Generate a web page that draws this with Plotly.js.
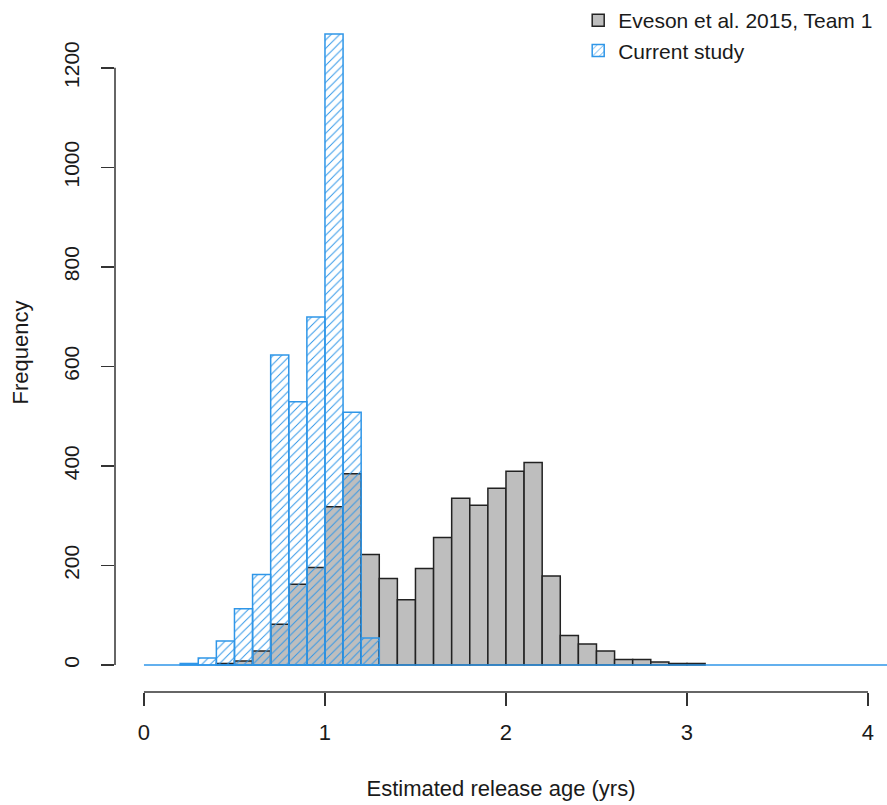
<!DOCTYPE html>
<html>
<head>
<meta charset="utf-8">
<script src="https://cdn.plot.ly/plotly-3.0.1.min.js"></script>
<style>html,body{margin:0;padding:0;background:#fff;}#chart{width:887px;height:805px;}</style>
</head>
<body>
<div id="chart"></div>
<script>
// Bin lower edges (width 0.1 yr) and counts
const evesonBinStart = [0.4,0.5,0.6,0.7,0.8,0.9,1.0,1.1,1.2,1.3,1.4,1.5,1.6,1.7,1.8,1.9,2.0,2.1,2.2,2.3,2.4,2.5,2.6,2.7,2.8,2.9,3.0];
const evesonCounts   = [3,8,28,82,162,196,318,384,222,174,131,194,256,335,321,355,389,407,179,59,42,28,11,11,6,3,3];
const currentBinStart = [0.2,0.3,0.4,0.5,0.6,0.7,0.8,0.9,1.0,1.1,1.2];
const currentCounts   = [3,14,48,113,182,623,529,699,1268,508,54];
const binWidth = 0.1;
const xTicks = [0,1,2,3,4];
const yTicks = [0,200,400,600,800,1000,1200];
const seriesNames = ["Eveson et al. 2015, Team 1", "Current study"];
const xTitle = "Estimated release age (yrs)";
const yTitle = "Frequency";

const blue = "#2f96e8";
const axisCol = "#333333";
const font = "Liberation Sans, Arial, sans-serif";

const traces = [
  {
    type: "bar", name: seriesNames[0],
    x: evesonBinStart, y: evesonCounts, width: binWidth, offset: 0,
    marker: {color: "#bebebe", line: {color: "#222222", width: 1.5}}
  },
  {
    type: "bar", name: seriesNames[1],
    x: currentBinStart, y: currentCounts, width: binWidth, offset: 0,
    marker: {
      color: "rgba(0,0,0,0)",
      line: {color: blue, width: 1.5},
      pattern: {shape: "/", fgcolor: blue, bgcolor: "rgba(0,0,0,0)", size: 6, solidity: 0.16, fillmode: "replace"}
    }
  }
];

const layout = {
  width: 887, height: 805,
  margin: {l: 115, r: 0, t: 13, b: 113},
  paper_bgcolor: "#fff", plot_bgcolor: "#fff",
  barmode: "overlay", bargap: 0,
  font: {family: font, size: 21, color: "#1a1a1a"},
  showlegend: true,
  legend: {
    x: 0.600, y: 1.019, xanchor: "left", yanchor: "top",
    bgcolor: "rgba(0,0,0,0)", font: {family: font, size: 21, color: "#1a1a1a"},
    tracegroupgap: 0, itemwidth: 30
  },
  xaxis: {
    range: [-0.16, 4.105], tickvals: xTicks, ticktext: xTicks.map(String),
    ticks: "outside", ticklen: 13, tickwidth: 1.5, tickcolor: axisCol,
    ticklabelstandoff: 8,
    showline: false, showgrid: false, zeroline: false,
    tickfont: {family: font, size: 22, color: "#1a1a1a"},
    title: {text: xTitle, standoff: 36, font: {family: font, size: 22, color: "#1a1a1a"}}
  },
  yaxis: {
    range: [-54.3, 1310], tickvals: yTicks, ticktext: yTicks.map(String),
    ticks: "outside", ticklen: 13, tickwidth: 1.5, tickcolor: axisCol,
    tickangle: -90, ticklabelstandoff: 14,
    showline: false, showgrid: false, zeroline: false,
    tickfont: {family: font, size: 21, color: "#1a1a1a"},
    title: {text: yTitle, standoff: 24, font: {family: font, size: 22, color: "#1a1a1a"}}
  },
  shapes: [
    {type: "line", xref: "x", yref: "y", x0: 0, x1: 4.3, y0: 0, y1: 0, line: {color: blue, width: 1.5}, layer: "above"},
    {type: "line", xref: "paper", yref: "y", x0: 0, x1: 0, y0: yTicks[0], y1: yTicks[yTicks.length-1], line: {color: axisCol, width: 1.5}, layer: "above"},
    {type: "line", xref: "x", yref: "paper", x0: xTicks[0], x1: xTicks[xTicks.length-1], y0: 0, y1: 0, line: {color: axisCol, width: 1.5}, layer: "above"}
  ]
};

Plotly.newPlot("chart", traces, layout, {displayModeBar: false, staticPlot: true});
</script>
</body>
</html>
